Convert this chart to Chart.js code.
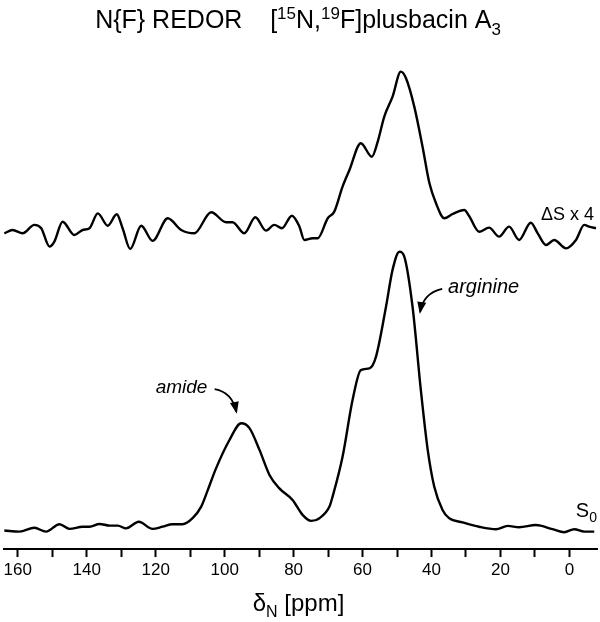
<!DOCTYPE html>
<html>
<head>
<meta charset="utf-8">
<title>N{F} REDOR plusbacin A3</title>
<script src="https://cdn.jsdelivr.net/npm/chart.js@4.4.0/dist/chart.umd.min.js"></script>
<style>
    html, body { margin: 0; padding: 0; background: #fff; }
    #wrap { width: 600px; height: 622px; }
</style>
</head>
<body>
<div id="wrap"><canvas id="redorChart" width="600" height="622"></canvas></div>
<script>
    // S0 spectrum (full echo), chemical shift in ppm and relative intensity
    const s0Shift = [163.9, 159.5, 155.2, 151.8, 147.9, 145.0, 141.2, 139.2, 136.3, 133.4, 131.0, 128.6,
        124.9, 120.9, 118.0, 115.1, 112.2, 109.3, 106.8, 104.9, 102.5, 98.6, 95.2, 92.8, 89.9, 87.0,
        84.2, 80.3, 77.4, 74.9, 72.5, 69.6, 68.7, 65.8, 62.9, 60.5, 58.0, 56.1, 53.2, 51.3, 49.3, 47.9,
        45.5, 43.1, 41.1, 39.2, 36.8, 34.9, 31.0, 26.2, 21.3, 17.9, 14.6, 9.7, 4.9, 1.5, -1.4, -4.3, -7.2];
    const s0Intensity = [-1.3, -1.7, -0.3, -1.7, 1.0, -0.7, 0.1, 0.1, 1.1, 0.5, 0.5, -0.5,
        1.9, -0.7, 0.1, 1.0, 1.0, 3.2, 7.4, 13.4, 21.3, 31.6, 37.7, 35.9, 28.0, 18.9,
        14.1, 9.8, 4.4, 2.2, 3.2, 7.4, 11.0, 25.5, 46.1, 57.0, 57.6, 61.9, 80.0, 93.4, 100, 98.2,
        80.0, 49.8, 28.0, 14.6, 6.2, 3.2, 1.7, 0.1, -0.8, 0.4, -0.1, 0.7, -0.8, -1.9, -0.8, -1.7, -1.7];

    // REDOR difference spectrum (delta S, shown x4)
    const dsShift = [163.9, 161.5, 158.6, 155.2, 153.2, 150.8, 149.4, 147.0, 143.6, 141.2, 139.2, 136.8,
        133.9, 131.3, 129.6, 127.4, 124.2, 120.9, 116.5, 112.6, 108.8, 103.9, 99.6, 97.7, 94.3, 91.1,
        88.0, 85.6, 83.4, 80.5, 78.3, 76.9, 74.5, 73.0, 70.1, 68.2, 65.8, 63.8, 60.5, 57.3, 55.6, 53.7,
        51.3, 48.9, 47.4, 45.0, 42.6, 40.6, 38.7, 36.3, 33.9, 30.5, 29.1, 26.2, 23.3, 20.4, 17.5, 14.6,
        11.2, 9.2, 6.8, 4.4, 1.0, -1.9, -4.3, -5.7, -7.7];
    const dsIntensity = [-2.1, 0, -2.1, 3.2, 1.1, -10.5, -7.4, 5.2, -3.2, 0, 1.1, 10.5,
        2.7, 9.9, 1.1, -12.0, 2.7, -6.9, 7.4, 0, -2.1, 11.2, 4.9, 4.9, -2.1, 8.0,
        -0.4, 3.2, 1.1, 9.0, 2.1, -6.3, -5.2, -5.2, 7.4, 11.6, 27.4, 37.9, 54.8, 46.3, 55.8, 71.6,
        84.2, 100, 95.8, 77.9, 52.6, 29.5, 16.9, 7.4, 10.1, 12.6, 8.8, -1.1, 1.5, -4.2, 2.1, -6.3,
        4.6, -2.1, -9.5, -6.3, -11.6, -6.3, 3.2, 2.1, 1.1];

    const majorTicks = [160, 140, 120, 100, 80, 60, 40, 20, 0];

    const FONT = '"Liberation Sans", Arial, Helvetica, sans-serif';

    function toPoints(xs, ys) {
        return xs.map(function (x, i) { return { x: x, y: ys[i] }; });
    }

    // draw text made of pieces: [text, shift] with shift 1 = superscript, -1 = subscript
    function drawRich(ctx, parts, x, y, size, align, style) {
        const small = Math.round(size * 0.68);
        const fontFor = function (shift) {
            return (style ? style + ' ' : '') + (shift === 0 ? size : small) + 'px ' + FONT;
        };
        const widths = parts.map(function (p) {
            ctx.font = fontFor(p[1]);
            return ctx.measureText(p[0]).width;
        });
        const total = widths.reduce(function (a, b) { return a + b; }, 0);
        let cx = align === 'center' ? x - total / 2 : (align === 'right' ? x - total : x);
        ctx.textAlign = 'left';
        ctx.textBaseline = 'alphabetic';
        parts.forEach(function (p, i) {
            ctx.font = fontFor(p[1]);
            let dy = 0;
            if (p[1] === 1) dy = -size * 0.36;
            if (p[1] === -1) dy = size * 0.27;
            ctx.fillText(p[0], cx, y + dy);
            cx += widths[i];
        });
    }

    function curvedArrow(ctx, p0, p1, p2) {
        ctx.beginPath();
        ctx.moveTo(p0.x, p0.y);
        ctx.quadraticCurveTo(p1.x, p1.y, p2.x, p2.y);
        ctx.lineWidth = 1.7;
        ctx.stroke();
        const a = Math.atan2(p2.y - p1.y, p2.x - p1.x);
        const len = 10, w = 4.5;
        ctx.beginPath();
        ctx.moveTo(p2.x + Math.cos(a) * 2, p2.y + Math.sin(a) * 2);
        ctx.lineTo(p2.x - len * Math.cos(a) + w * Math.sin(a), p2.y - len * Math.sin(a) - w * Math.cos(a));
        ctx.lineTo(p2.x - len * Math.cos(a) - w * Math.sin(a), p2.y - len * Math.sin(a) + w * Math.cos(a));
        ctx.closePath();
        ctx.fill();
    }

    const labelPlugin = {
        id: 'redorLabels',
        afterDraw: function (chart) {
            const ctx = chart.ctx;
            const area = chart.chartArea;
            const xs = chart.scales.x;
            const ys = chart.scales.y;
            const pt = function (ppm, v) { return { x: xs.getPixelForValue(ppm), y: ys.getPixelForValue(v) }; };

            ctx.save();
            ctx.fillStyle = '#000';
            ctx.strokeStyle = '#000';

            drawRich(ctx, [['N{F} REDOR    [', 0], ['15', 1], ['N,', 0], ['19', 1], ['F]plusbacin A', 0], ['3', -1]],
                298, 28, 25, 'center');

            drawRich(ctx, [['\u03B4', 0], ['N', -1], [' [ppm]', 0]], (area.left + area.right) / 2 - 2, 611, 24, 'center');

            drawRich(ctx, [['\u0394S x 4', 0]], area.right - 3, 220, 18, 'right');
            drawRich(ctx, [['S', 0], ['0', -1]], area.right, 517, 20, 'right');

            // peak assignments
            const amide = pt(112.5, 50.9);
            drawRich(ctx, [['amide', 0]], amide.x, amide.y + 6, 19, 'center', 'italic');
            curvedArrow(ctx, pt(102.9, 50.1), pt(97.8, 49.0), pt(96.6, 41.8));

            const arg = pt(35.2, 87.2);
            drawRich(ctx, [['arginine', 0]], arg.x, arg.y + 6, 20, 'left', 'italic');
            curvedArrow(ctx, pt(36.9, 86.5), pt(42.4, 85.0), pt(43.3, 78.1));

            ctx.restore();
        }
    };

    const lineStyle = {
        borderColor: '#000',
        borderWidth: 2.4,
        pointRadius: 0,
        showLine: true,
        fill: false,
        cubicInterpolationMode: 'monotone'
    };

    const ctx = document.getElementById('redorChart').getContext('2d');
    new Chart(ctx, {
        type: 'scatter',
        data: {
            datasets: [
                Object.assign({ label: 'S0', data: toPoints(s0Shift, s0Intensity), yAxisID: 'y' }, lineStyle),
                Object.assign({ label: '\u0394S x 4', data: toPoints(dsShift, dsIntensity), yAxisID: 'y2' }, lineStyle)
            ]
        },
        options: {
            responsive: false,
            animation: false,
            devicePixelRatio: 1,
            layout: { padding: { top: 40, left: 4, right: 3, bottom: 0 } },
            plugins: {
                legend: { display: false },
                tooltip: { enabled: false },
                title: { display: false }
            },
            scales: {
                x: {
                    type: 'linear',
                    reverse: true,
                    min: -8,
                    max: 164,
                    afterFit: function (scale) { scale.height = 73; },
                    border: { display: true, color: '#000', width: 2 },
                    grid: { drawOnChartArea: false, drawTicks: true, tickLength: 8, tickWidth: 2, tickColor: '#000' },
                    ticks: {
                        stepSize: 10,
                        includeBounds: false,
                        autoSkip: false,
                        maxRotation: 0,
                        color: '#000',
                        padding: 3,
                        font: { family: FONT, size: 17 },
                        callback: function (v) { return majorTicks.includes(v) ? String(v) : ''; }
                    }
                },
                y: { display: false, min: -8, max: 176.9 },
                y2: { display: false, min: -201.5, max: 120 }
            }
        },
        plugins: [labelPlugin]
    });
</script>
</body>
</html>
